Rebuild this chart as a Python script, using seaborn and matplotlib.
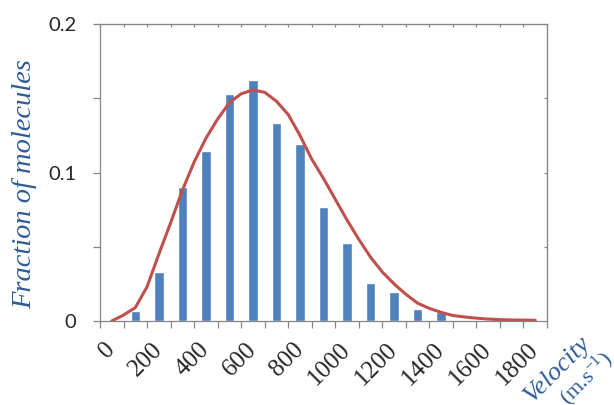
import numpy as np
import pandas as pd
import matplotlib
matplotlib.use("Agg")
import matplotlib.pyplot as plt
import seaborn as sns

# velocity classes (m/s) and measured fraction of molecules per class
velocity = [0, 100, 200, 300, 400, 500, 600, 700, 800, 900,
            1000, 1100, 1200, 1300, 1400, 1500, 1600, 1700, 1800]
fraction = [0.0, 0.007, 0.033, 0.090, 0.1145, 0.153, 0.1625, 0.133, 0.1195, 0.077,
            0.0523, 0.0254, 0.0195, 0.0081, 0.0063, 0.0009, 0.0005, 0.0, 0.0]

# distribution curve
curve_v = [0, 50, 100, 150, 200, 250, 300, 350, 400, 450, 500, 550, 600, 650,
           700, 750, 800, 850, 900, 950, 1000, 1050, 1100, 1150, 1200, 1250,
           1300, 1350, 1400, 1450, 1500, 1550, 1600, 1650, 1700, 1750, 1800]
curve_f = [0.0, 0.004, 0.009, 0.023, 0.045, 0.066, 0.088, 0.107, 0.123, 0.136,
           0.147, 0.153, 0.1556, 0.154, 0.148, 0.139, 0.125, 0.109, 0.096, 0.082,
           0.068, 0.055, 0.043, 0.033, 0.025, 0.018, 0.012, 0.0085, 0.0058, 0.0037,
           0.0027, 0.0019, 0.0013, 0.0009, 0.0007, 0.0006, 0.0005]

tick_labels = ["0", "200", "400", "600", "800", "1000", "1200", "1400", "1600", "1800"]

bar_blue = "#4F81BD"
line_red = "#C0504D"
axis_grey = "#868686"
label_blue = "#2E5B97"

sns.set_style("white")
plt.rcParams["mathtext.fontset"] = "custom"
plt.rcParams["mathtext.rm"] = "Liberation Serif"
plt.rcParams["mathtext.it"] = "Liberation Serif:italic"

df = pd.DataFrame({"velocity": [str(v) for v in velocity], "fraction": fraction})

fig = plt.figure(figsize=(6.14, 4.05), dpi=100)
ax = fig.add_axes([100 / 614, 1 - 321 / 405, 447 / 614, 297 / 405])

sns.barplot(data=df, x="velocity", y="fraction", order=df["velocity"],
            color=bar_blue, width=0.4, saturation=1, ax=ax)
sns.lineplot(x=np.array(curve_v) / 100, y=curve_f, color=line_red, lw=2.2,
             sort=False, ax=ax)

ax.set_xlim(-0.5, 18.5)
ax.set_ylim(0, 0.2)
ax.set_xlabel("")
ax.set_ylabel("")

for s in ax.spines.values():
    s.set_color(axis_grey)
    s.set_linewidth(0.9)

# x axis: labels at every other class, ticks at class boundaries
ax.set_xticks(range(0, 19, 2))
ax.set_xticklabels(tick_labels, rotation=45, ha="right", va="center",
                   rotation_mode="anchor", family="Liberation Serif", fontsize=18)
ax.set_xticks(np.arange(-0.5, 19, 1), minor=True)
ax.tick_params(axis="x", which="major", length=0, pad=18)
ax.tick_params(axis="x", which="minor", direction="out", length=5,
               color=axis_grey, width=0.9, bottom=True, top=False)

# y axis
ax.set_yticks([0, 0.1, 0.2])
ax.set_yticklabels(["0", "0.1", "0.2"], family="Lato", fontsize=14.5)
ax.set_yticks([0.05, 0.15], minor=True)
ax.tick_params(axis="y", which="both", direction="out", length=5,
               color=axis_grey, width=0.9, left=True, right=False, pad=12)

# inner ticks on top and right
top = ax.secondary_xaxis("top")
top.set_xticks(np.arange(-0.5, 19, 1))
top.set_xticklabels([])
top.tick_params(direction="in", length=2.5, color=axis_grey, width=0.9)
top.spines["top"].set_color(axis_grey)
right = ax.secondary_yaxis("right")
right.set_yticks([0.05, 0.1, 0.15])
right.set_yticklabels([])
right.tick_params(direction="in", length=2.5, color=axis_grey, width=0.9)
right.spines["right"].set_color(axis_grey)

fig.text(25 / 614, 1 - 184 / 405, "Fraction of molecules", rotation=90,
         ha="center", va="center", style="italic", family="Liberation Serif",
         fontsize=20.5, color=label_blue)
fig.text(532 / 614, 1 - 403 / 405, "Velocity", rotation=45, rotation_mode="anchor",
         ha="left", va="baseline", style="italic", family="Liberation Serif",
         fontsize=19, color=label_blue)
fig.text(568 / 614, 1 - 406 / 405, "(m.s$^{-1}$)", rotation=45, rotation_mode="anchor",
         ha="left", va="baseline", family="Liberation Serif",
         fontsize=16, color=label_blue)

fig.savefig("out.png", dpi=100)
